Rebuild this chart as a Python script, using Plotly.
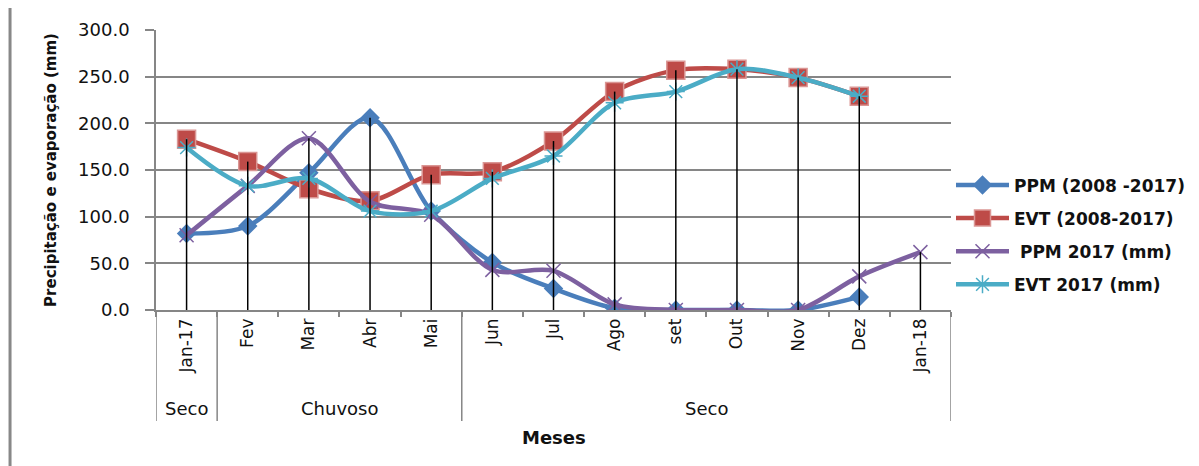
import plotly.graph_objects as go

months = ["Jan-17", "Fev", "Mar", "Abr", "Mai", "Jun", "Jul", "Ago", "set", "Out", "Nov", "Dez", "Jan-18"]
ppm_avg = [82, 90, 147, 206, 106, 51, 23, 2, 0, 0, 0, 14, None]
evt_avg = [183, 159, 130, 117, 145, 148, 181, 234, 257, 258, 249, 229, None]
ppm_2017 = [80, 133, 184, 116, 102, 43, 42, 6, 0, 0, 0, 36, 62]
evt_2017 = [174, 133, 141, 106, 106, 141, 165, 222, 234, 258, 249, 229, None]
seasons = ["Seco", "Chuvoso", "Seco"]
season_spans = [(0, 0), (1, 4), (5, 12)]
y_ticks = [0, 50, 100, 150, 200, 250, 300]

FONT = "DejaVu Sans"
GRAY = "#868686"
TXT = "#111111"

fig = go.Figure()

series = [
    ("PPM (2008 -2017)", ppm_avg, "#4A7EBB", dict(symbol="diamond", size=15, color="#4A7EBB", line=dict(width=0))),
    ("EVT (2008-2017)", evt_avg, "#BE4B48", dict(symbol="square", size=18, color="#BE4B48", line=dict(width=1.5, color="#DA9694"))),
    (" PPM 2017 (mm)", ppm_2017, "#7D60A0", dict(symbol="x-thin-open", size=14, color="#7D60A0", line=dict(width=1.5, color="#7D60A0"))),
    ("EVT 2017 (mm)", evt_2017, "#4BACC6", dict(symbol="asterisk-open", size=15, color="#4BACC6", line=dict(width=1.5, color="#4BACC6"))),
]

for i, (name, vals, col, mk) in enumerate(series):
    fig.add_trace(go.Scatter(
        x=months, y=vals, name=name, mode="lines+markers",
        line=dict(color=col, width=4.5, shape="spline", smoothing=0.9),
        marker=mk, legendgroup=f"g{i}", connectgaps=False,
    ))

# drop lines: from the highest value of each category down to the axis
dx, dy = [], []
for j, m in enumerate(months):
    vals = [s[j] for s in (ppm_avg, evt_avg, ppm_2017, evt_2017) if s[j] is not None]
    top = max(vals)
    dx += [m, m, None]
    dy += [0, top, None]
fig.add_trace(go.Scatter(x=dx, y=dy, mode="lines", line=dict(color="black", width=1.5),
                         showlegend=False, hoverinfo="skip"))

shapes = []
bounds = [-0.5] + [e + 0.5 for (_, e) in season_spans]
for b in bounds:
    shapes.append(dict(type="line", xref="x", yref="paper", x0=b, x1=b, y0=0, y1=-0.396,
                       line=dict(color=GRAY, width=1.5)))
# outer frame
shapes.append(dict(type="line", xref="paper", yref="paper", x0=-0.1836, x1=1.32, y0=1.082, y1=1.082,
                   line=dict(color="#BBBBBB", width=1.5)))
shapes.append(dict(type="line", xref="paper", yref="paper", x0=-0.1836, x1=-0.1836, y0=1.082, y1=-0.6,
                   line=dict(color="#888888", width=3)))

annotations = []
for name, (s, e) in zip(seasons, season_spans):
    annotations.append(dict(x=(s + e) / 2, y=-0.353, xref="x", yref="paper", text=name,
                            showarrow=False, font=dict(family=FONT, size=18, color=TXT),
                            yanchor="middle"))
annotations.append(dict(x=0.5, y=-0.455, xref="paper", yref="paper", text="<b>Meses</b>",
                        showarrow=False, font=dict(family=FONT, size=18, color=TXT),
                        yanchor="middle"))

fig.update_layout(
    width=1199, height=466,
    margin=dict(l=148, r=256, t=22, b=164),
    paper_bgcolor="white", plot_bgcolor="white",
    font=dict(family=FONT, size=16, color=TXT),
    shapes=shapes, annotations=annotations,
    legend=dict(x=1.0, y=0.268, xanchor="left", yanchor="middle",
                font=dict(family=FONT, size=17, color=TXT, weight="bold"),
                itemwidth=53, tracegroupgap=8, bgcolor="rgba(0,0,0,0)"),
    xaxis=dict(type="category", categoryorder="array", categoryarray=months,
               range=[-0.5, len(months) - 0.5],
               tickangle=-90, tickfont=dict(family=FONT, size=17, color=TXT),
               showline=True, linecolor=GRAY, linewidth=1.5,
               ticks="outside", tickson="boundaries", ticklen=5, tickcolor=GRAY, tickwidth=1.5,
               showgrid=False, zeroline=False, fixedrange=True),
    yaxis=dict(range=[0, 300], tickvals=y_ticks, ticktext=[f"{v:.1f}" for v in y_ticks],
               tickfont=dict(family=FONT, size=18, color=TXT), ticklabelstandoff=12,
               showline=True, linecolor=GRAY, linewidth=1.5,
               ticks="outside", ticklen=9, tickcolor=GRAY, tickwidth=1.5,
               showgrid=True, gridcolor=GRAY, gridwidth=1.5, zeroline=False,
               title=dict(text="<b>Precipitação e evaporação (mm)</b>",
                          font=dict(family=FONT, size=15, color=TXT), standoff=18),
               fixedrange=True),
    showlegend=True,
)

fig.write_html("out.html")
